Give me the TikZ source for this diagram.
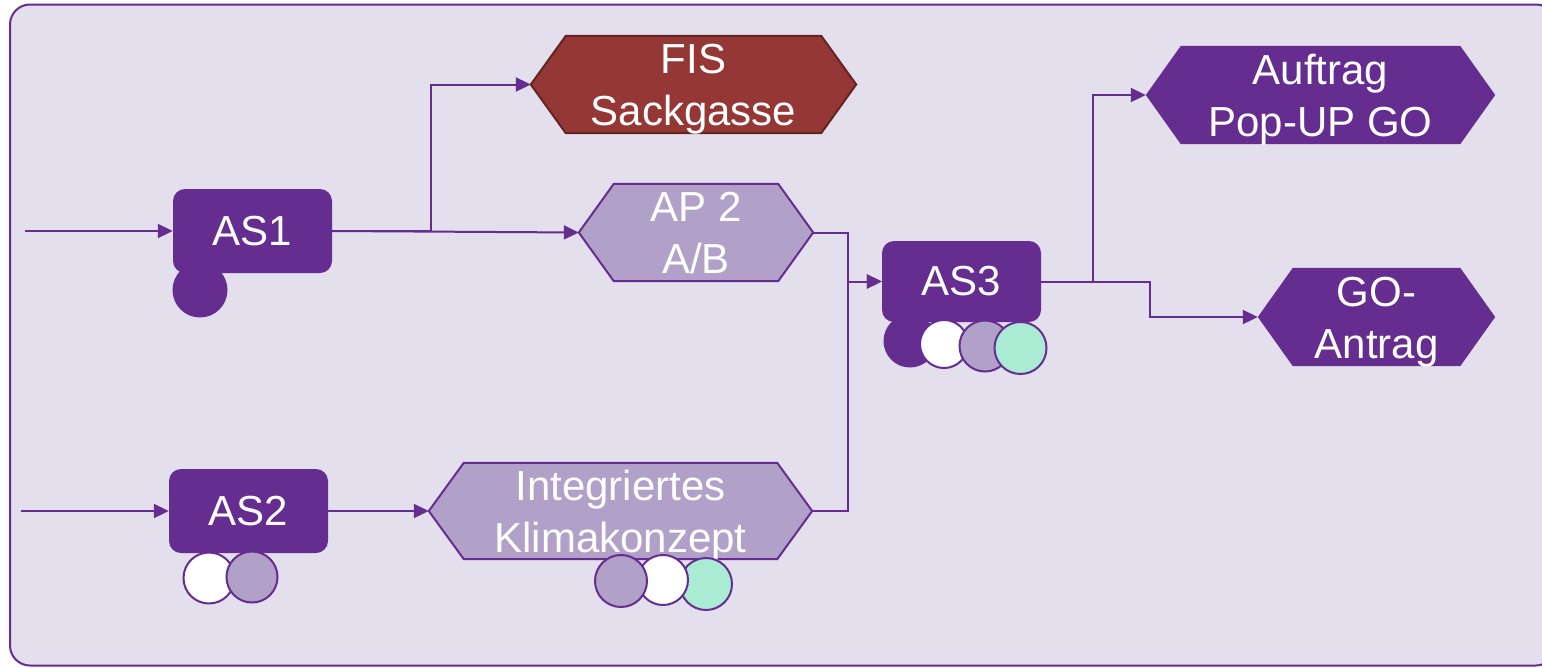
\documentclass[tikz,border=0pt]{standalone}
\usepackage{fontspec}
\setmainfont{Liberation Sans}
\usetikzlibrary{arrows.meta}
\pgfdeclarelayer{bg}
\pgfsetlayers{bg,main}

\definecolor{vio}{HTML}{662D91}
\definecolor{paper}{HTML}{E4DFEC}
\definecolor{lilac}{HTML}{B1A0C7}
\definecolor{mint}{HTML}{AAEBD3}
\definecolor{brick}{HTML}{953735}
\definecolor{brickline}{HTML}{632523}

% hexagonal plate behind a text node whose west/east anchors are the tips
\newcommand\hexback[2]{%
  \begin{pgfonlayer}{bg}
    \path[#2] (#1.west) -- ([xshift=35pt]#1.north west) -- ([xshift=-35pt]#1.north east)
      -- (#1.east) -- ([xshift=-35pt]#1.south east) -- ([xshift=35pt]#1.south west) -- cycle;
  \end{pgfonlayer}}

\begin{document}
\begin{tikzpicture}[x=1pt,y=-1pt,
  bigtext/.style={font=\fontsize{42}{52}\selectfont, text=white},
  stepbox/.style={bigtext, rectangle, rounded corners=12pt, fill=vio,
    minimum width=159pt, minimum height=84pt, inner sep=0pt},
  hexlabel/.style={bigtext, align=center, inner sep=0pt,
    text height=82pt, text depth=0pt},
  conn/.style={draw=vio, line width=2pt},
  arr/.style={conn, -{Triangle[length=15pt,width=14pt]}},
  dot/.style={circle, draw=vio, line width=2pt, inner sep=0pt, minimum size=51pt},
  violethex/.style={fill=vio},
  lilachex/.style={fill=lilac, draw=vio, line width=2pt},
  brickhex/.style={fill=brick, draw=brickline, line width=2pt}
]
\useasboundingbox (0,0) rectangle (1542,667);

% white page and outer frame
\begin{pgfonlayer}{bg}
  \clip (0,0) rectangle (1542,667);
  \fill[white] (0,0) rectangle (1542,667);
  \draw[vio, fill=paper, line width=2pt, rounded corners=20pt] (10,4.5) rectangle (1556,665.5);
\end{pgfonlayer}

% process steps
\node[stepbox] (as1) at (252.5,231) {AS1};
\node[stepbox] (as2) at (248.5,511) {AS2};
\node[stepbox, minimum height=81pt] (as3) at (961.5,281.5) {AS3};

% result plates
\node[hexlabel, minimum width=325pt, minimum height=97pt] (fis) at (693.5,84.5) {FIS\\Sackgasse};
\hexback{fis}{brickhex}
\node[hexlabel, minimum width=234pt, minimum height=97pt] (ap2) at (696,232.5) {AP 2\\A/B};
\hexback{ap2}{lilachex}
\node[hexlabel, minimum width=383pt, minimum height=96pt] (kli) at (620.5,511) {Integriertes\\Klimakonzept};
\hexback{kli}{lilachex}
\node[hexlabel, minimum width=349pt, minimum height=98pt] (auf) at (1320.5,95) {Auftrag\\Pop-UP GO};
\hexback{auf}{violethex}
\node[hexlabel, minimum width=237pt, minimum height=98pt] (goa) at (1376.5,317) {GO-\\Antrag};
\hexback{goa}{violethex}

% markers under the steps
\node[dot, fill=vio, minimum size=53pt] (m1) at (200,290) {};

\node[dot, fill=white] (m2a) at (209,578) {};
\node[dot, fill=lilac] (m2b) at (252,577) {};

\node[dot, fill=mint, minimum size=52pt] (mka) at (706,584) {};
\node[dot, fill=white, minimum size=50pt] (mkb) at (663,580) {};
\node[dot, fill=lilac, minimum size=52pt] (mkc) at (621,581) {};

\node[dot, fill=vio] (m3a) at (910,341) {};
\node[dot, fill=white, minimum size=48pt] (m3b) at (944,344) {};
\node[dot, fill=lilac] (m3c) at (985,346) {};
\node[dot, fill=mint, minimum size=52pt] (m3d) at (1020.5,348) {};

% connectors
\coordinate (in1) at (25,231);
\coordinate (in2) at (21,511);
\coordinate (jfis) at (431,84.5);
\coordinate (jas3) at (848,281.5);
\coordinate (jauf) at (1093,95);
\coordinate (jgo) at (1150,317);

\draw[arr] (in1) -- (as1.west);
\draw[arr] (in2) -- (as2.west);
\draw[arr] (as1.east) -- (ap2.west);
\draw[arr] (as1.east) -| (jfis) -- (fis.west);
\draw[arr] (as2.east) -- (kli.west);
\draw[arr] (ap2.east) -| (jas3) -- (as3.west);
\draw[arr] (kli.east) -| (jas3) -- (as3.west);
\draw[arr] (as3.east) -| (jauf) -- (auf.west);
\draw[arr] (as3.east) -- (as3.east -| jgo) -- (jgo) -- (goa.west);
\end{tikzpicture}
\end{document}
